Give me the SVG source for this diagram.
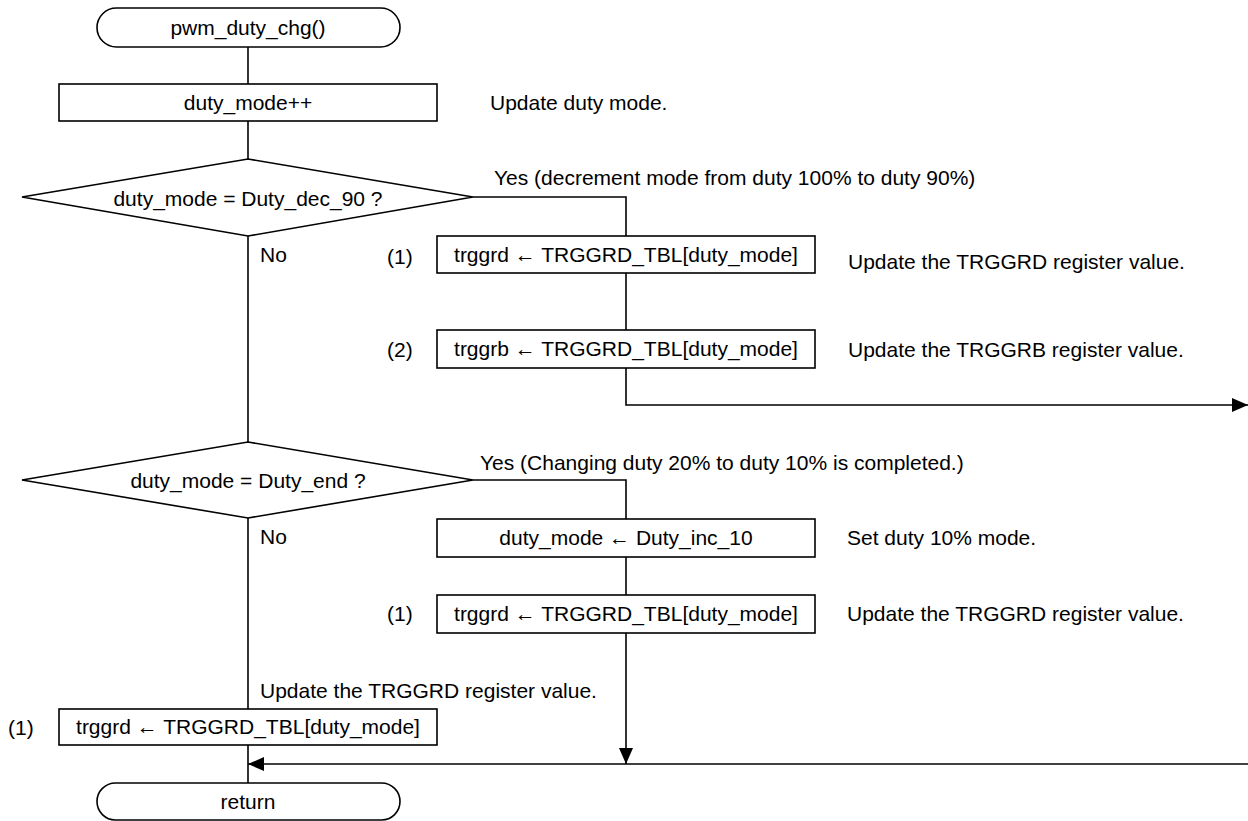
<svg xmlns="http://www.w3.org/2000/svg" width="1248" height="821" viewBox="0 0 1248 821">
<style>
text{font-family:"Liberation Sans",Arial,sans-serif;font-size:21px;fill:#000}
.c{text-anchor:middle}
.s{fill:#fff;stroke:#000;stroke-width:1.6}
.l{fill:none;stroke:#000;stroke-width:1.6}
</style>
<defs>
<marker id="ah" viewBox="0 0 16 14" refX="16" refY="7" markerWidth="16" markerHeight="14" markerUnits="userSpaceOnUse" orient="auto">
<path d="M0,0 L16,7 L0,14 Z" fill="#000"/>
</marker>
</defs>
<rect width="1248" height="821" fill="#fff"/>
<g id="connectors">
<path class="l" d="M248,47 V84"/>
<path class="l" d="M248,121 V159"/>
<path class="l" d="M248,236 V442"/>
<path class="l" d="M248,518 V709"/>
<path class="l" d="M248,745 V783"/>
<path class="l" d="M473,197 H626 V236"/>
<path class="l" d="M626,273 V330"/>
<path class="l" d="M626,368 V405 H1248" marker-end="url(#ah)"/>
<path class="l" d="M473,480 H626 V519"/>
<path class="l" d="M626,557 V595"/>
<path class="l" d="M626,633 V764" marker-end="url(#ah)"/>
<path class="l" d="M1248,764 H248" marker-end="url(#ah)"/>
</g>
<g id="start">
<rect class="s" x="97" y="8" width="303" height="39" rx="19.5"/>
<text class="c" x="248" y="35">pwm_duty_chg()</text>
</g>
<g id="inc">
<rect class="s" x="59" y="84" width="378" height="37"/>
<text class="c" x="248" y="110">duty_mode++</text>
<text x="490" y="110">Update duty mode.</text>
</g>
<g id="dec1">
<polygon class="s" points="248,159 473,197 248,236 22,197"/>
<text class="c" x="248" y="206">duty_mode = Duty_dec_90 ?</text>
<text x="494" y="185">Yes (decrement mode from duty 100% to duty 90%)</text>
<text x="260" y="262">No</text>
</g>
<g id="p1a">
<rect class="s" x="437" y="236" width="378" height="37"/>
<text class="c" x="626" y="262">trggrd ← TRGGRD_TBL[duty_mode]</text>
<text x="387" y="264">(1)</text>
<text x="848" y="269">Update the TRGGRD register value.</text>
</g>
<g id="p2a">
<rect class="s" x="437" y="330" width="378" height="38"/>
<text class="c" x="626" y="356">trggrb ← TRGGRD_TBL[duty_mode]</text>
<text x="387" y="357">(2)</text>
<text x="848" y="357">Update the TRGGRB register value.</text>
</g>
<g id="dec2">
<polygon class="s" points="248,442 473,480 248,518 22,480"/>
<text class="c" x="248" y="488">duty_mode = Duty_end ?</text>
<text x="480" y="470">Yes (Changing duty 20% to duty 10% is completed.)</text>
<text x="260" y="544">No</text>
</g>
<g id="setmode">
<rect class="s" x="437" y="519" width="378" height="38"/>
<text class="c" x="626" y="545">duty_mode ← Duty_inc_10</text>
<text x="847" y="545">Set duty 10% mode.</text>
</g>
<g id="p1b">
<rect class="s" x="437" y="595" width="378" height="38"/>
<text class="c" x="626" y="621">trggrd ← TRGGRD_TBL[duty_mode]</text>
<text x="387" y="621">(1)</text>
<text x="847" y="621">Update the TRGGRD register value.</text>
</g>
<g id="p1c">
<rect class="s" x="59" y="709" width="378" height="36"/>
<text class="c" x="248" y="734">trggrd ← TRGGRD_TBL[duty_mode]</text>
<text x="8" y="735">(1)</text>
<text x="260" y="698">Update the TRGGRD register value.</text>
</g>
<g id="end">
<rect class="s" x="97" y="783" width="303" height="37" rx="18.5"/>
<text class="c" x="248" y="809">return</text>
</g>
</svg>
